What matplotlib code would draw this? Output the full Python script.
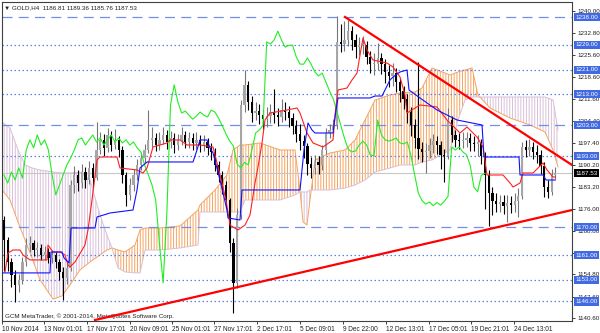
import numpy as np
import matplotlib
matplotlib.use("Agg")
import matplotlib.pyplot as plt
from matplotlib.transforms import blended_transform_factory

# H4 candles (prices), open of each bar = previous close
first_open = 1172.4
close = [
    1165.9, 1158.8, 1154.6, 1151.3, 1152.9, 1158.8, 1164.3, 1164.9, 1162.7, 1163.3,
    1161.0, 1162.0, 1160.1, 1161.0, 1158.8, 1155.5, 1153.6, 1156.8, 1183.7,
    1186.9, 1184.3, 1187.9, 1185.3, 1189.2, 1185.9, 1195.0,
    1198.3, 1195.7, 1199.9, 1196.6, 1198.3, 1195.0, 1186.9, 1180.5, 1183.7, 1186.9, 1190.2,
    1192.4, 1195.0, 1198.3, 1198.9, 1196.6, 1198.3, 1199.9, 1197.6, 1198.9, 1196.6,
    1198.3, 1199.9, 1197.6, 1198.9, 1197.3, 1198.3, 1196.6, 1197.6, 1195.7, 1194.4,
    1190.2, 1186.9, 1183.7, 1178.8, 1164.9, 1152.0,
    1174.0, 1209.6, 1216.1, 1210.5, 1207.0, 1207.6, 1206.3, 1205.0, 1206.0, 1207.3,
    1206.3, 1205.7, 1207.9, 1207.3, 1205.3, 1202.8, 1200.2, 1197.9, 1196.3, 1190.5,
    1189.2, 1191.0, 1190.2, 1195.0, 1200.5, 1201.5, 1203.0,
    1230.0, 1229.3, 1230.6, 1233.5, 1230.6, 1228.3, 1228.9, 1228.9, 1225.1, 1222.8,
    1222.8, 1224.8, 1222.8, 1220.3, 1219.0, 1219.9, 1217.0, 1214.1, 1211.5, 1207.3,
    1203.1, 1198.9, 1195.3, 1194.4, 1194.7, 1196.6, 1197.9, 1196.6, 1193.4, 1193.1,
    1204.7, 1199.9, 1198.3, 1197.9, 1198.3, 1198.9, 1197.3, 1197.0, 1197.6, 1193.1,
    1186.9, 1181.0, 1178.6, 1177.5, 1178.2, 1177.0, 1178.0, 1177.2, 1178.4, 1180.0,
    1196.0, 1195.0, 1196.0, 1194.4, 1193.5, 1190.0, 1183.0, 1181.5, 1186.81, 1187.53,
]
high = [
    1173.6, 1166.8, 1160.1, 1156.2, 1155.0, 1160.3, 1166.6, 1167.2, 1166.0, 1165.3,
    1164.5, 1163.9, 1163.2, 1162.8, 1162.1, 1159.8, 1157.1, 1158.6, 1185.2,
    1190.0, 1188.4, 1190.5, 1189.6, 1191.4, 1190.8, 1204.2,
    1201.0, 1200.2, 1202.0, 1201.3, 1201.8, 1199.6, 1196.3, 1188.0, 1186.0, 1188.8, 1192.0,
    1194.5, 1197.0, 1208.0, 1202.6, 1200.4, 1200.9, 1202.5, 1201.4, 1201.2, 1200.5,
    1200.3, 1202.3, 1201.2, 1200.8, 1200.6, 1200.7, 1199.8, 1199.9, 1199.0, 1197.2,
    1195.6, 1191.5, 1188.3, 1184.9, 1179.6, 1166.5,
    1176.4, 1211.2, 1221.0, 1217.3, 1212.4, 1210.4, 1209.9, 1208.1, 1208.8, 1210.0,
    1214.8, 1208.7, 1211.5, 1210.7, 1209.1, 1207.1, 1204.8, 1203.5, 1199.8, 1197.4,
    1192.6, 1193.5, 1193.0, 1196.6, 1202.1, 1203.4, 1205.2,
    1238.5, 1235.8, 1236.6, 1237.0, 1235.0, 1232.4, 1231.5, 1232.0, 1230.2, 1227.0,
    1226.4, 1229.6, 1226.3, 1224.5, 1222.6, 1223.2, 1221.5, 1218.3, 1215.6, 1213.0,
    1208.8, 1205.2, 1223.5, 1197.6, 1197.4, 1199.0, 1200.1, 1199.6, 1197.8, 1195.5,
    1208.5, 1206.0, 1201.5, 1200.4, 1200.8, 1201.0, 1200.4, 1199.6, 1200.0, 1198.5,
    1194.4, 1188.6, 1183.0, 1181.2, 1180.6, 1180.3, 1180.5, 1180.2, 1181.0, 1182.6,
    1197.6, 1198.3, 1198.5, 1197.7, 1196.5, 1195.0, 1191.2, 1185.4, 1189.0, 1189.36,
]
low = [
    1156.0, 1155.8, 1150.6, 1145.9, 1149.2, 1151.6, 1157.5, 1162.1, 1160.6, 1160.4,
    1159.3, 1159.5, 1158.3, 1158.6, 1156.9, 1153.0, 1146.4, 1151.8, 1155.7,
    1181.2, 1181.9, 1182.6, 1182.8, 1183.9, 1183.2, 1185.2,
    1193.6, 1193.2, 1194.4, 1194.8, 1195.2, 1192.8, 1184.4, 1176.8, 1178.9, 1181.7, 1185.4,
    1188.6, 1190.9, 1194.0, 1196.0, 1194.6, 1195.1, 1196.8, 1195.3, 1195.8, 1194.2,
    1194.9, 1196.5, 1195.7, 1195.6, 1195.0, 1195.2, 1194.3, 1194.8, 1193.5, 1191.9,
    1188.2, 1184.6, 1180.9, 1176.2, 1162.0, 1142.3,
    1150.4, 1172.6, 1207.4, 1207.8, 1204.1, 1204.7, 1203.4, 1201.8, 1202.6, 1203.9,
    1203.7, 1202.9, 1204.0, 1204.6, 1202.5, 1200.3, 1197.7, 1195.1, 1192.4, 1186.8,
    1186.0, 1187.2, 1187.4, 1188.5, 1193.8, 1199.0, 1199.7,
    1201.8, 1226.6, 1227.0, 1228.8, 1227.5, 1224.8, 1225.6, 1226.0, 1222.7, 1219.9,
    1219.2, 1220.8, 1219.5, 1216.8, 1215.4, 1215.8, 1213.8, 1210.5, 1208.4, 1203.9,
    1199.6, 1195.7, 1192.0, 1191.2, 1187.5, 1192.4, 1194.2, 1193.8, 1189.0, 1184.5,
    1192.0, 1197.5, 1195.9, 1195.4, 1195.6, 1196.1, 1194.8, 1194.6, 1193.0, 1190.4,
    1176.0, 1170.4, 1174.0, 1174.8, 1175.0, 1174.2, 1171.8, 1174.6, 1175.0, 1173.3,
    1179.2, 1192.6, 1193.0, 1192.0, 1190.9, 1187.4, 1179.8, 1179.6, 1180.4, 1185.76,
]

# Ichimoku lines (bar index, price)
tenkan_x = [0.27, 1.08, 2.43, 4.32, 5.14, 7.03, 11.62, 11.89, 13.24, 15.14, 16.49, 17.30,
            17.84, 19.19, 21.89, 22.70, 23.78, 25.14, 25.95, 30.54, 31.35, 35.95, 37.57,
            38.65, 40.27, 44.05, 44.86, 47.57, 49.46, 52.97, 56.49, 58.38, 60.00, 61.08,
            63.24, 65.14, 66.49, 67.84, 68.65, 69.73, 70.54, 71.89, 76.49, 79.19, 80.00,
            81.89, 83.51, 86.22, 88.92, 89.46, 90.27, 92.70, 94.05, 95.41, 96.22, 97.03,
            98.11, 99.73, 103.51, 105.14, 107.03, 108.38, 108.92, 112.43, 117.03, 119.73,
            123.24, 125.14, 127.84, 129.46, 130.54, 134.86, 136.76, 137.57, 139.46, 140.27,
            142.97, 145.68, 146.76, 148.38, 149.0]
tenkan_y = [1155.56, 1161.69, 1162.66, 1162.66, 1161.05, 1159.44, 1159.44, 1164.28, 1162.01,
            1162.01, 1161.05, 1157.82, 1157.18, 1158.79, 1164.28, 1169.13, 1178.84, 1191.78,
            1192.75, 1192.75, 1189.20, 1188.55, 1187.58, 1189.20, 1195.99, 1197.29, 1198.26,
            1198.26, 1196.64, 1196.64, 1195.99, 1186.93, 1178.84, 1170.75, 1169.13, 1170.75,
            1173.99, 1184.34, 1189.52, 1197.29, 1204.73, 1206.99, 1207.96, 1208.61, 1206.99,
            1200.52, 1197.29, 1195.99, 1198.26, 1206.35, 1214.44, 1215.08, 1217.67, 1219.94,
            1225.76, 1231.26, 1227.38, 1224.14, 1223.17, 1221.88, 1218.64, 1212.82, 1206.99,
            1209.58, 1208.93, 1204.73, 1200.52, 1202.46, 1199.23, 1195.99, 1186.93, 1186.93,
            1184.34, 1183.05, 1184.34, 1187.58, 1187.58, 1190.81, 1188.55, 1186.28, 1186.28]
kijun_x = [-0.54, 12.43, 12.70, 15.68, 16.22, 17.57, 18.11, 24.59, 25.14, 28.65, 34.86, 35.95,
           36.76, 38.65, 51.08, 52.16, 52.97, 54.86, 55.68, 56.49, 58.38, 60.27, 60.54, 63.78,
           64.32, 80.00, 81.08, 82.16, 83.24, 84.05, 88.92, 89.73, 90.27, 98.92, 100.27, 102.16,
           102.97, 104.32, 105.14, 107.03, 108.92, 109.46, 112.43, 117.03, 122.43, 129.19,
           129.73, 139.19, 139.46, 145.68, 146.49, 149.0]
kijun_y = [1155.24, 1155.24, 1162.01, 1162.01, 1160.08, 1158.47, 1169.78, 1169.78, 1173.34,
           1174.63, 1175.60, 1182.08, 1189.20, 1191.14, 1191.14, 1195.02, 1198.26, 1198.26,
           1195.67, 1194.05, 1185.31, 1175.60, 1173.02, 1172.37, 1182.08, 1182.08, 1195.02,
           1203.76, 1201.49, 1200.52, 1200.52, 1207.96, 1211.85, 1211.85, 1212.49, 1212.49,
           1214.44, 1217.67, 1218.64, 1220.26, 1220.91, 1214.44, 1211.85, 1207.96, 1204.73,
           1203.11, 1192.75, 1192.75, 1186.93, 1186.93, 1185.31, 1185.31]
cloud_x = [-0.54, 1.62, 3.78, 5.68, 7.57, 9.73, 13.24, 15.68, 17.84, 20.54, 23.24, 25.95,
           27.84, 29.19, 30.81, 32.70, 35.41, 36.76, 38.11, 42.16, 47.57, 52.43, 52.97, 57.03,
           60.27, 61.89, 63.78, 65.14, 69.19, 74.59, 78.65, 80.00, 80.81, 81.89, 82.70, 84.05,
           88.11, 92.16, 94.86, 97.57, 100.27, 104.32, 107.03, 111.08, 112.97, 115.68, 120.54,
           122.70, 124.59, 126.49, 128.11, 131.35, 136.76, 142.16, 146.22, 148.38, 149.73]
span_a = [1182.08, 1178.84, 1171.73, 1165.90, 1160.08, 1152.98, 1146.76, 1147.80, 1151.36,
          1156.21, 1158.79, 1161.05, 1162.66, 1163.31, 1162.66, 1162.01, 1164.28, 1169.13,
          1169.78, 1169.78, 1170.43, 1175.60, 1177.22, 1182.08, 1186.93, 1195.02, 1196.64,
          1196.64, 1197.29, 1195.02, 1195.02, 1182.08, 1171.73, 1170.75, 1178.84, 1191.78,
          1194.05, 1195.02, 1198.26, 1204.73, 1211.20, 1212.82, 1213.47, 1213.79, 1215.08,
          1221.55, 1219.29, 1220.26, 1220.91, 1221.55, 1212.82, 1208.61, 1205.37, 1203.11,
          1200.84, 1195.02, 1189.52]
span_b = [1204.08, 1202.14, 1195.02, 1190.17, 1189.20, 1188.55, 1187.90, 1187.58, 1187.58,
          1187.90, 1185.31, 1173.99, 1167.51, 1163.31, 1156.86, 1155.56, 1155.24, 1155.24,
          1162.66, 1162.66, 1163.31, 1164.28, 1174.96, 1174.96, 1174.96, 1174.96, 1174.96,
          1178.84, 1178.84, 1178.84, 1180.46, 1181.43, 1181.43, 1181.43, 1182.08, 1182.08,
          1182.08, 1182.72, 1183.70, 1185.31, 1187.90, 1189.20, 1190.17, 1190.17, 1191.14,
          1191.78, 1195.02, 1204.73, 1211.20, 1212.17, 1212.17, 1212.17, 1212.17, 1212.17,
          1212.17, 1211.20, 1201.49]
chikou_shift = 19

levels_dashed = [1238.0, 1203.0, 1170.0]
levels_dotted = [1229.0, 1221.0, 1213.0, 1193.0, 1161.0, 1153.0, 1146.0]
last_price = 1187.53

trend_hi_x, trend_hi_y = [92.16, 153.51], [1238.06, 1190.17]
trend_lo_x, trend_lo_y = [24.59, 153.51], [1140.0, 1175.6]

price_ticks = [1240.00, 1232.80, 1225.60, 1218.60, 1211.60, 1204.40, 1197.40, 1190.20,
               1183.20, 1176.00, 1168.80, 1161.80, 1154.80, 1147.60, 1140.60]
date_pos = [-0.5, 10.81, 22.43, 34.05, 45.41, 56.76, 68.38, 80.0, 91.62, 103.24,
            114.86, 126.22, 137.84]
date_labels = ["10 Nov 2014", "13 Nov 01:01", "17 Nov 17:01", "20 Nov 09:01",
               "25 Nov 01:01", "27 Nov 17:01", "2 Dec 17:01", "5 Dec 09:01",
               "9 Dec 22:00", "12 Dec 13:01", "17 Dec 05:01", "19 Dec 21:01",
               "24 Dec 13:01"]

plt.rcParams['font.family'] = ['Liberation Sans', 'DejaVu Sans']
plt.rcParams['hatch.linewidth'] = 0.7

fig = plt.figure(figsize=(6, 3.33), dpi=100)
ax = fig.add_axes([2 / 600, 12 / 333, 570 / 600, 319 / 333])
ax.set_xlim(-0.54, 153.51)
ax.set_ylim(1139.68, 1242.91)

# cloud
cx = np.array(cloud_x)
sa = np.array(span_a)
sb = np.array(span_b)
ax.fill_between(cx, sa, sb, where=sa >= sb, interpolate=True, facecolor='none',
                edgecolor='#f4a460', hatch='||||||', linewidth=0, zorder=1)
ax.fill_between(cx, sa, sb, where=sa < sb, interpolate=True, facecolor='none',
                edgecolor='#d8bfd8', hatch='||||||', linewidth=0, zorder=1)
ax.plot(cx, sa, color='#f4a460', lw=0.7, zorder=1.2)
ax.plot(cx, sb, color='#d8bfd8', lw=0.7, zorder=1.2)

# horizontal levels
for v in levels_dashed:
    ax.axhline(v, color='#7090e8', lw=0.9, ls=(0, (8, 5)), zorder=1.5)
for v in levels_dotted:
    ax.axhline(v, color='#5f80e6', lw=0.9, ls=(0, (1.2, 2.0)), zorder=1.5)
ax.axhline(last_price, color='#c8c8c8', lw=0.8, zorder=1.4)

# candles
c = np.array(close)
o = np.r_[first_open, c[:-1]]
h = np.array(high)
l = np.array(low)
x = np.arange(len(c))
up = c >= o
ax.vlines(x[up], l[up], h[up], color='#777777', lw=0.8, zorder=3)
ax.vlines(x[~up], l[~up], h[~up], color='black', lw=0.8, zorder=3)
body_lo = np.minimum(o, c)
body_h = np.maximum(np.abs(c - o), 0.3)
ax.bar(x[up], body_h[up], bottom=body_lo[up], width=0.6, color='#a6a6a6', linewidth=0, zorder=3.2)
ax.bar(x[~up], body_h[~up], bottom=body_lo[~up], width=0.6, color='black', linewidth=0, zorder=3.2)

# ichimoku lines
ax.plot(x[chikou_shift:] - chikou_shift, c[chikou_shift:], color='#22ee22', lw=0.8, zorder=4)
ax.plot(tenkan_x, tenkan_y, color='#ff2020', lw=0.8, zorder=4)
ax.plot(kijun_x, kijun_y, color='#1010ff', lw=0.8, zorder=4)

# trend lines
ax.plot(trend_hi_x, trend_hi_y, color='#ff0000', lw=1.6, zorder=5)
ax.plot(trend_lo_x, trend_lo_y, color='#ff0000', lw=1.6, zorder=5)

# axes styling
ax.yaxis.tick_right()
ax.set_yticks(price_ticks)
ax.set_yticklabels([f"{t:.2f}" for t in price_ticks])
ax.set_xticks(date_pos)
ax.set_xticklabels(date_labels, ha='left')
ax.tick_params(axis='both', length=2.5, width=0.6, pad=1.2, colors='#202020')
ax.tick_params(axis='y', labelsize=4.5)
ax.tick_params(axis='x', labelsize=4.7)
for s in ax.spines.values():
    s.set_color('#404040')
    s.set_linewidth(0.8)

# level labels on the price scale
trans = blended_transform_factory(ax.transAxes, ax.transData)
for v in levels_dashed + levels_dotted:
    ax.text(1.006, v, f"{v:.2f}", transform=trans, ha='left', va='center', fontsize=4.5,
            color='white', clip_on=False, zorder=10,
            bbox=dict(boxstyle='square,pad=0.25', fc='#4169e1', ec='none'))
ax.text(1.006, last_price, f"{last_price:.2f}", transform=trans, ha='left', va='center',
        fontsize=4.5, color='white', clip_on=False, zorder=10,
        bbox=dict(boxstyle='square,pad=0.25', fc='black', ec='none'))

ax.text(0.004, 0.99, "\u25bc GOLD,H4  1186.81 1189.36 1185.76 1187.53", transform=ax.transAxes,
        ha='left', va='top', fontsize=4.5, color='#202020')
ax.text(0.006, 0.014, "GCM MetaTrader, \u00a9 2001-2014, MetaQuotes Software Corp.",
        transform=ax.transAxes, ha='left', va='center', fontsize=4.5, color='#202020')

fig.savefig('out.png', dpi=100)
